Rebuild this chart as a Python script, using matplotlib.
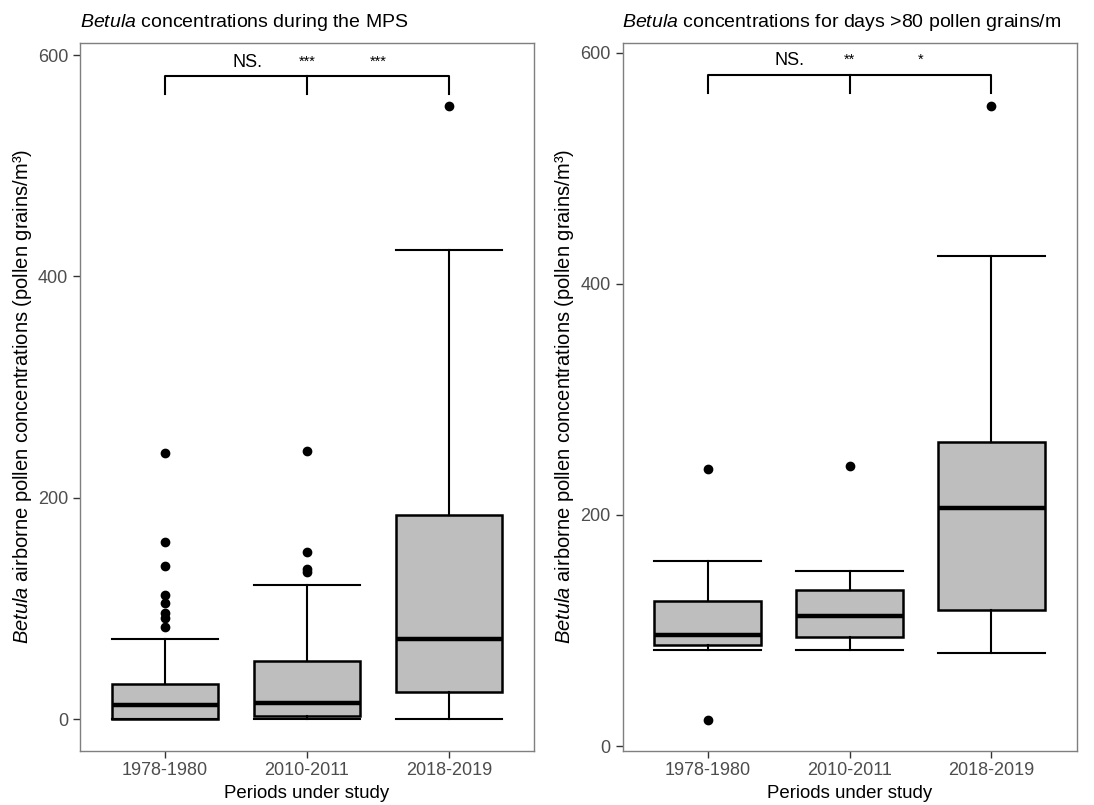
import matplotlib.pyplot as plt

plt.rcParams['font.family'] = 'Liberation Sans'
plt.rcParams['mathtext.fontset'] = 'custom'
plt.rcParams['mathtext.rm'] = 'Liberation Sans'
plt.rcParams['mathtext.it'] = 'Liberation Sans:italic'

# Periods on the x axis
periods = ["1978-1980", "2010-2011", "2018-2019"]

# Box statistics, whole main pollen season (MPS)
mps_whislo = [0, 0, 0]
mps_q1 = [0, 3, 24.4]
mps_med = [13.1, 14.5, 72]
mps_q3 = [31.3, 52.7, 184.3]
mps_whishi = [72.3, 121.4, 423.6]
mps_fliers = [[240, 159.6, 138, 112, 105, 96, 91, 83],
              [242, 151, 135.5, 133],
              [554]]

# Box statistics, days with > 80 pollen grains/m3
high_whislo = [83.4, 83.4, 80.5]
high_q1 = [87.8, 94.4, 117.5]
high_med = [95.8, 112.6, 205.8]
high_q3 = [125.3, 135, 263]
high_whishi = [160.5, 151.8, 424.2]
high_fliers = [[240, 22.8], [242.4], [554]]

# Significance labels (1 vs 2, overall, 2 vs 3)
mps_signif = ["NS.", "***", "***"]
high_signif = ["NS.", "**", "*"]

titles = [r"$\mathit{Betula}$ concentrations during the MPS",
          r"$\mathit{Betula}$ concentrations for days >80 pollen grains/m"]
ylabel = r"$\mathit{Betula}$ airborne pollen concentrations (pollen grains/m³)"

fig = plt.figure(figsize=(10.94, 8.05), dpi=100)
ax1 = fig.add_axes([80 / 1094, 1 - 750.5 / 805, 454 / 1094, 707.2 / 805])
ax2 = fig.add_axes([622.5 / 1094, 1 - 750.5 / 805, 454 / 1094, 707.2 / 805])

panels = [
    (ax1, mps_whislo, mps_q1, mps_med, mps_q3, mps_whishi, mps_fliers, mps_signif, (-28.4, 610.6)),
    (ax2, high_whislo, high_q1, high_med, high_q3, high_whishi, high_fliers, high_signif, (-3.7, 608)),
]

for i, (ax, wlo, q1, med, q3, whi, fl, sig, ylim) in enumerate(panels):
    stats = []
    for k in range(len(periods)):
        stats.append(dict(whislo=wlo[k], q1=q1[k], med=med[k], q3=q3[k],
                          whishi=whi[k], fliers=fl[k], label=periods[k]))
    ax.bxp(stats, positions=[1, 2, 3], widths=0.75, patch_artist=True,
           boxprops=dict(facecolor="#BEBEBE", edgecolor="black", linewidth=1.8),
           medianprops=dict(color="black", linewidth=3.2),
           whiskerprops=dict(color="black", linewidth=1.5),
           capprops=dict(color="black", linewidth=1.5),
           capwidths=0.75,
           flierprops=dict(marker="o", markerfacecolor="black",
                           markeredgecolor="black", markersize=6))

    # significance bracket
    ax.plot([1, 1, 3, 3], [565, 581, 581, 565], color="black", linewidth=1.5)
    ax.plot([2, 2], [565, 581], color="black", linewidth=1.5)
    ax.text(1.58, 586, sig[0], ha="center", va="bottom", fontsize=13)
    ax.text(2.0, 588, sig[1], ha="center", va="bottom", fontsize=10.5)
    ax.text(2.5, 588, sig[2], ha="center", va="bottom", fontsize=10.5)

    ax.set_xlim(0.4, 3.6)
    ax.set_ylim(*ylim)
    ax.set_yticks([0, 200, 400, 600])
    ax.tick_params(labelsize=13, labelcolor="#4D4D4D", color="#333333",
                   length=5, width=1)
    for s in ax.spines.values():
        s.set_color("#7F7F7F")
        s.set_linewidth(1)
    ax.set_xlabel("Periods under study", fontsize=13.4, labelpad=4)
    ax.set_ylabel(ylabel, fontsize=14.5, labelpad=3)
    ax.set_title(titles[i], loc="left", fontsize=14, pad=12)

fig.savefig("out.png", dpi=100)
